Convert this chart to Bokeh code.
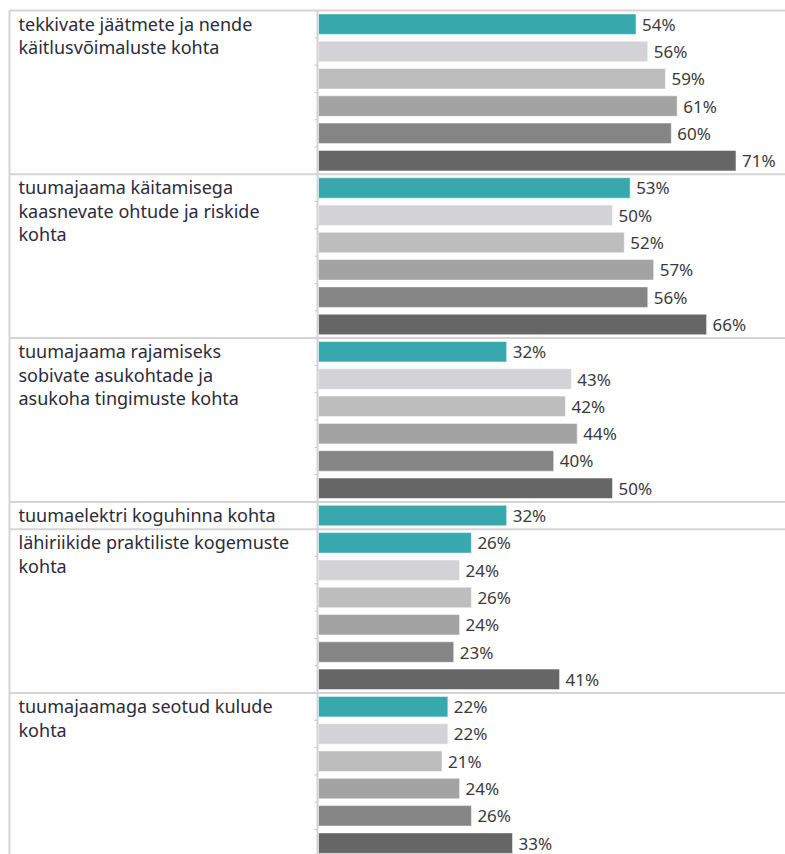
from bokeh.plotting import figure
from bokeh.models import Range1d, ColumnDataSource
from bokeh.core.properties import value
from bokeh.embed import file_html
from bokeh.resources import INLINE

# ---- data ----
group_labels = [
    "tekkivate jäätmete ja nende\nkäitlusvõimaluste kohta",
    "tuumajaama käitamisega\nkaasnevate  ohtude ja riskide\nkohta",
    "tuumajaama rajamiseks\nsobivate asukohtade ja\nasukoha tingimuste kohta",
    "tuumaelektri koguhinna kohta",
    "lähiriikide praktiliste kogemuste\nkohta",
    "tuumajaamaga seotud kulude\nkohta",
]
g1 = [54, 56, 59, 61, 60, 71]
g2 = [53, 50, 52, 57, 56, 66]
g3 = [32, 43, 42, 44, 40, 50]
g4 = [32]
g5 = [26, 24, 26, 24, 23, 41]
g6 = [22, 22, 21, 24, 26, 33]
groups = [g1, g2, g3, g4, g5, g6]
bar_colors = ["#37A9AE", "#D3D3D7", "#BDBDBD", "#A3A3A3", "#858585", "#666666"]

# ---- layout ----
W, H = 785, 854
PX_PER_PCT = 5.88
AXIS_PX = 318          # x of value 0 within figure
TOP_PX = 10            # first separator within figure
ROW_PX = 27.3

x0 = -AXIS_PX / PX_PER_PCT
x1 = (W - AXIS_PX) / PX_PER_PCT
y_top = -TOP_PX / ROW_PX
y_bot = (H - TOP_PX) / ROW_PX

p = figure(width=W, height=H, output_backend="svg", toolbar_location=None,
           x_range=Range1d(x0, x1), y_range=Range1d(y_bot, y_top),
           min_border=0, min_border_left=0, min_border_right=0,
           min_border_top=0, min_border_bottom=0)
p.axis.visible = False
p.grid.visible = False
p.outline_line_color = None
p.background_fill_color = "white"

rows_y, vals, cols, txt = [], [], [], []
sep_rows = [0]
tick_rows = []
label_rows = []
r = 0
for g in groups:
    label_rows.append(r)
    for i, v in enumerate(g):
        rows_y.append(r + 0.5)
        vals.append(v)
        cols.append(bar_colors[i])
        txt.append(f"{v}%")
        if i > 0:
            tick_rows.append(r)
        r += 1
    sep_rows.append(r)

src = ColumnDataSource(dict(y=rows_y, v=vals, c=cols, t=txt,
                            tx=[v + 6 / PX_PER_PCT for v in vals]))
bar_h = 20.5 / ROW_PX
p.hbar(y="y", left=0, right="v", height=bar_h, fill_color="c",
       line_color="white", line_alpha=0.5, line_width=1, source=src)
p.text(x="tx", y="y", text="t", source=src, text_font=value("Noto Sans"),
       text_font_size="17px", text_color="#3a3a3a", text_baseline="middle",
       text_align="left")

# grid frame lines
left_x = (9 - AXIS_PX) / PX_PER_PCT
p.segment(x0=[left_x] * len(sep_rows), y0=sep_rows, x1=[x1] * len(sep_rows), y1=sep_rows,
          line_color="#D4D4D4", line_width=2)
p.segment(x0=[left_x], y0=[0], x1=[left_x], y1=[y_bot], line_color="#D4D4D4", line_width=2)
ax_x = -1 / PX_PER_PCT
p.segment(x0=[ax_x], y0=[0], x1=[ax_x], y1=[y_bot], line_color="#D4D4D4", line_width=2)
p.segment(x0=[ax_x - 3 / PX_PER_PCT] * len(tick_rows), y0=tick_rows,
          x1=[ax_x] * len(tick_rows), y1=tick_rows, line_color="#C8C8C8", line_width=1)

# group labels
lab_x = (18 - AXIS_PX) / PX_PER_PCT
p.text(x=[lab_x] * len(label_rows), y=[lr + 1 / ROW_PX for lr in label_rows],
       text=group_labels, text_font=value("Noto Sans"), text_font_size="18px",
       text_color="#2b2b3a", text_baseline="top", text_align="left",
       text_line_height=0.98)

open("out.html", "w").write(file_html(p, INLINE))
